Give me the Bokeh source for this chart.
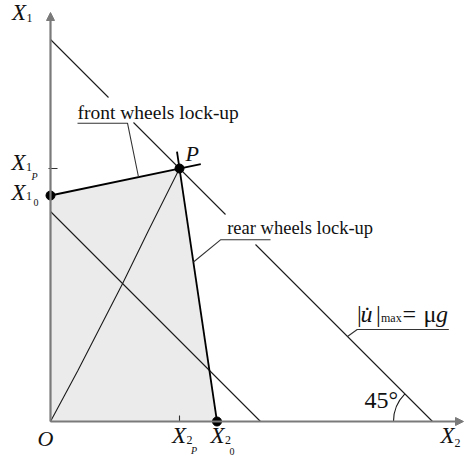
from bokeh.plotting import figure
from bokeh.models import Range1d, Label, Arrow, NormalHead
from bokeh.embed import file_html
from bokeh.resources import INLINE

# ---------------- data (diagram units, origin O at (0, 0)) ----------------
X1_0 = 226.0            # front-wheels lock-up line meets X1 axis
X2_0 = 166.5            # rear-wheels lock-up line meets X2 axis
P = (129.0, 253.0)      # point P (both axles at lock-up)
MU_G = 382.0            # intercept of |u|max = mu g line (45 deg)
LOW = 210.0             # intercept of lower parallel 45 deg line
ideal_x = [0.0, 27.4, 72.0, 98.0, 129.0]   # ideal braking curve O -> P
ideal_y = [0.0, 51.0, 137.7, 191.0, 253.0]
mu_breaks = [(0.0, 58.0), (83.0, 175.0), (205.0, MU_G)]  # visible parts (text gaps)
AXIS_END = (409.0, 413.0)  # y-axis top, x-axis right end
ANGLE = (135, 180)         # 45 degree arc

FONT = "Liberation Serif"
AX = "#7a7a7a"
INK = "#1a1a1a"

p = figure(width=467, height=457, x_range=Range1d(-50, 417), y_range=Range1d(-36, 421),
           output_backend="svg", toolbar_location=None, x_axis_type=None, y_axis_type=None,
           min_border=0, outline_line_color=None)
p.xgrid.visible = False
p.ygrid.visible = False
p.background_fill_color = "white"
p.border_fill_color = "white"

# shaded admissible region
p.patch([0, 0, P[0], X2_0], [0, X1_0, P[1], 0], fill_color="#ebebeb", line_color=None)

# 45 deg lines
for a, b in mu_breaks:
    p.line([a, b], [MU_G - a, MU_G - b], line_color=INK, line_width=1.1)
p.line([0, LOW], [LOW, 0], line_color=INK, line_width=1.1)

# ideal braking curve
p.line(ideal_x, ideal_y, line_color=INK, line_width=1.1)

# front / rear lock-up lines (extended a bit past P)
fe = 0.165
p.line([0, P[0] + fe * P[0]], [X1_0, P[1] + fe * (P[1] - X1_0)], line_color="black", line_width=1.8)
re_ = 0.067
p.line([X2_0, P[0] + re_ * (P[0] - X2_0)], [0, P[1] + re_ * P[1]], line_color="black", line_width=1.8)

# ticks at P
p.line([-2, 7], [P[1], P[1]], line_color="#333", line_width=1.1)
p.line([P[0], P[0]], [0, 6], line_color="#333", line_width=1.1)

# axes with arrows
p.add_layout(Arrow(end=NormalHead(size=8, fill_color=AX, line_color=AX, line_width=1),
                   x_start=0, y_start=0, x_end=0, y_end=AXIS_END[0], line_color=AX, line_width=2.2))
p.add_layout(Arrow(end=NormalHead(size=8, fill_color=AX, line_color=AX, line_width=1),
                   x_start=0, y_start=0, x_end=AXIS_END[1], y_end=0, line_color=AX, line_width=2.2))

# points
p.scatter([0, P[0], X2_0], [X1_0, P[1], 0], size=9, color="black")

# 45 deg arc
p.arc(x=[MU_G], y=[0], radius=39, start_angle=ANGLE[0], end_angle=ANGLE[1],
      start_angle_units="deg", end_angle_units="deg", line_color=INK, line_width=1.1)

# leader lines + underlines
p.line([27, 77, 88], [298.3, 298.3, 244.5], line_color="#333", line_width=1.1)
p.line([220, 170, 143], [181.7, 181.7, 159.5], line_color="#333", line_width=1.1)
p.line([398.3, 306.7, 297], [92, 92, 85], line_color="#333", line_width=1.1)


def lab(x, y, text, size, style="normal"):
    # small baseline correction so glyphs sit on the intended baseline
    p.add_layout(Label(x=x, y=y + 0.3 * size, text=text, text_font=FONT, text_font_size=f"{size}px",
                       text_font_style=style, text_align="left", text_baseline="alphabetic",
                       text_color="#111"))


# axis symbols
lab(-38.5, 402, "X", 23, "italic"); lab(-24, 400.3, "1", 12)
lab(-39, P[1] - 1, "X", 23, "italic"); lab(-24.5, P[1] - 2, "1", 12); lab(-19, P[1] - 11, "P", 10, "italic")
lab(-39, X1_0 - 4, "X", 23, "italic"); lab(-24.5, X1_0 - 4.5, "1", 12); lab(-17, X1_0 - 10, "0", 10)
lab(-13, -24, "O", 22, "italic")
lab(P[0] - 7.5, -20.7, "X", 23, "italic"); lab(P[0] + 7, -22.3, "2", 12); lab(P[0] + 11.5, -32, "P", 10, "italic")
lab(X2_0 - 6.5, -20.7, "X", 23, "italic"); lab(X2_0 + 8, -22.3, "2", 12); lab(X2_0 + 12.5, -33, "0", 10)
lab(390, -21, "X", 23, "italic"); lab(404, -25, "2", 12)
lab(P[0] + 6, P[1] + 8, "P", 22, "italic")

# annotations
lab(27, 302.7, "front wheels lock-up", 19.5)
lab(176.7, 187.7, "rear wheels lock-up", 18.5)
lab(314, 14.3, "45°", 24)
lab(306.5, 100, "|", 24)
lab(310, 100, "u\u0307", 24, "italic")
lab(325.5, 100, "|", 24)
lab(330.5, 100, "max", 12)
lab(352, 100, "=", 24)
lab(373, 100, "μ", 24)
lab(385.5, 100, "g", 24, "italic")

open("out.html", "w").write(file_html(p, INLINE))
